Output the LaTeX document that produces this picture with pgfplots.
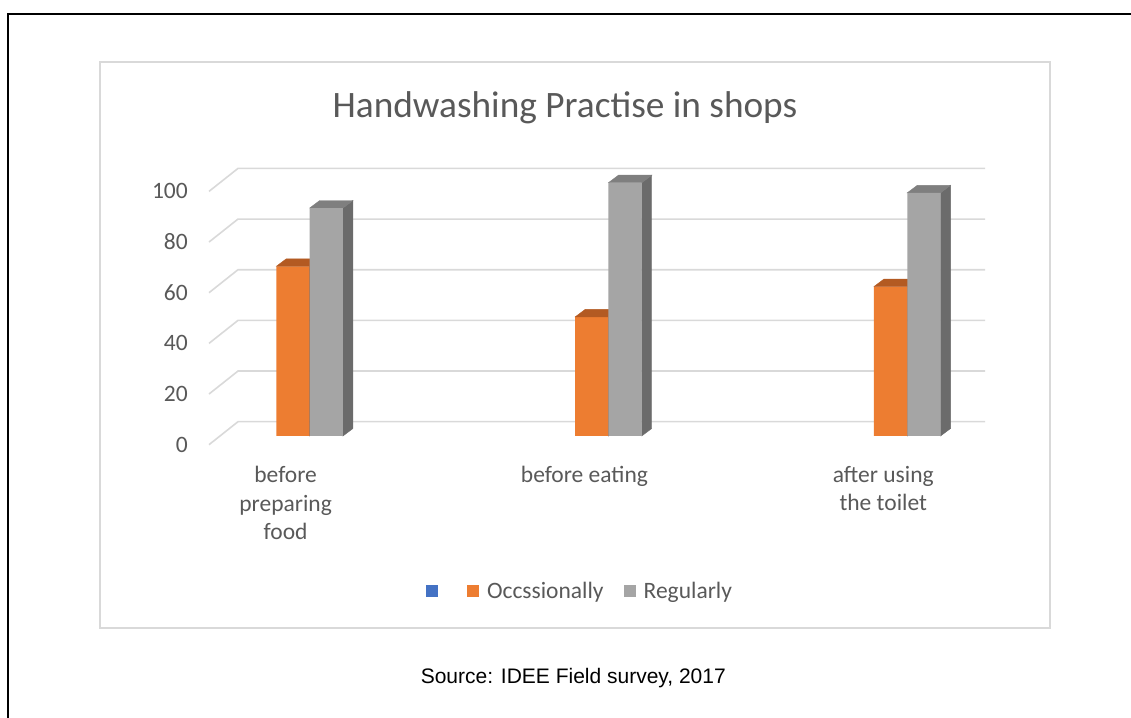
\documentclass[border=0pt]{standalone}
\usepackage{fontspec}
\setmainfont{Carlito}
\newfontfamily\srcfont{Liberation Sans}
\usepackage{pgfplots}
\usepackage{pgfplotstable}
\pgfplotsset{compat=1.18}
\definecolor{textgray}{HTML}{595959}
\definecolor{gridgray}{HTML}{D9D9D9}
\definecolor{corange}{HTML}{ED7D31}
\definecolor{otop}{HTML}{B35A22}
\definecolor{oside}{HTML}{A04F1C}
\definecolor{cgray}{HTML}{A5A5A5}
\definecolor{gtop}{HTML}{7F7F7F}
\definecolor{gside}{HTML}{6B6B6B}
\definecolor{cblue}{HTML}{4472C4}
\pgfdeclareplotmark{nothing}{}
\newcommand\getheight[1]{\pgfmathfloatparsenumber{#1}\pgfmathfloattofixed{\pgfmathresult}\let\h=\pgfmathresult}
\pgfplotstableread{
x occ reg
0 67 90
1 47 100
2 59 96
}\datatable
\begin{document}
\begin{tikzpicture}[x=1pt,y=1pt]
\useasboundingbox (0,0) rectangle (1131,717);
% outer frame
\draw[black, line width=2.7pt] (8,-5) -- (8,703) -- (1140,703);
% chart area box
\draw[gridgray, line width=2pt] (100,89) rectangle (1050,655);
% title
\node[anchor=base, font=\fontsize{37.3}{42}\selectfont, text=textgray] at (565,599) {Handwashing Practise in shops};
% source
\node[anchor=base, font=\srcfont\fontsize{21}{25}\selectfont, text=black] at (573.3,33.7) {Source: IDEE Field survey, 2017};
\begin{axis}[
  at={(220pt,281pt)}, anchor=south west,
  scale only axis, width=747pt, height=253.3pt,
  xmin=-0.3, xmax=2.2, ymin=0, ymax=100,
  clip=false, clip marker paths=true,
  axis line style={draw=none},
  major tick length=0pt,
  tick style={draw=none},
  xtick={0,1,2},
  xticklabels={{before\\preparing\\food},{before eating},{after using\\the toilet}},
  ytick={0,20,40,60,80,100},
  /pgf/number format/assume math mode=true,
  ticklabel style={font=\fontsize{23.5}{28.5}\selectfont, text=textgray},
  yticklabel style={anchor=east, inner sep=0pt, xshift=-32pt, yshift=-8.5pt},
  xticklabel style={anchor=north, inner sep=0pt, yshift=-30pt, xshift=-24pt, align=center},
  legend image code/.code={\fill[#1] (0pt,-6pt) rectangle (12pt,6pt);},
  legend columns=3,
  legend style={at={(0.2758,-0.612)}, anchor=west, draw=none, fill=none,
    inner sep=0pt, outer sep=0pt,
    nodes={inner sep=0pt, font=\fontsize{23.5}{28.5}\selectfont, text=textgray},
    /tikz/every odd column/.append style={column sep=8pt},
    /tikz/every even column/.append style={column sep=20pt}},
]
\addlegendimage{fill=cblue, draw=none}
\addlegendentry{}
\addlegendimage{fill=corange, draw=none}
\addlegendentry{Occssionally}
\addlegendimage{fill=cgray, draw=none}
\addlegendentry{Regularly}
% back wall gridlines with floor slant
\pgfplotsinvokeforeach{0,20,40,60,80,100}{
  \draw[gridgray, line width=1.6pt]
    ([xshift=-11pt,yshift=-8.7pt]axis cs:-0.3,#1) --
    ([xshift=18pt,yshift=14.3pt]axis cs:-0.3,#1) --
    ([xshift=18pt,yshift=14.3pt]axis cs:2.2,#1);
}
% Occssionally: front faces
\addplot[forget plot, ybar, bar width=33.3pt, bar shift=-16.65pt, fill=corange, draw=none]
  table[x=x, y=occ] {\datatable};
% Occssionally: top and side faces
\addplot[forget plot, only marks, mark=nothing, scatter,
  visualization depends on={rawy \as \val},
  scatter/@pre marker code/.code={%
    \getheight{\val}%
    \fill[oside] (0pt,0pt) -- (10pt,7.5pt) -- (10pt,7.5pt-2.533pt*\h) -- (0pt,-2.533pt*\h) -- cycle;
    \fill[otop] (-33.3pt,0pt) -- (0pt,0pt) -- (10pt,7.5pt) -- (-23.3pt,7.5pt) -- cycle;
  },
  scatter/@post marker code/.code={}]
  table[x=x, y=occ] {\datatable};
% Regularly: top and side faces
\addplot[forget plot, only marks, mark=nothing, scatter,
  visualization depends on={rawy \as \val},
  scatter/@pre marker code/.code={%
    \getheight{\val}%
    \fill[gside] (33.3pt,0pt) -- (43.3pt,7.5pt) -- (43.3pt,7.5pt-2.533pt*\h) -- (33.3pt,-2.533pt*\h) -- cycle;
    \fill[gtop] (0pt,0pt) -- (33.3pt,0pt) -- (43.3pt,7.5pt) -- (10pt,7.5pt) -- cycle;
  },
  scatter/@post marker code/.code={}]
  table[x=x, y=reg] {\datatable};
% Regularly: front faces
\addplot[forget plot, ybar, bar width=33.3pt, bar shift=16.65pt, fill=cgray, draw=none]
  table[x=x, y=reg] {\datatable};
\end{axis}
\end{tikzpicture}
\end{document}
